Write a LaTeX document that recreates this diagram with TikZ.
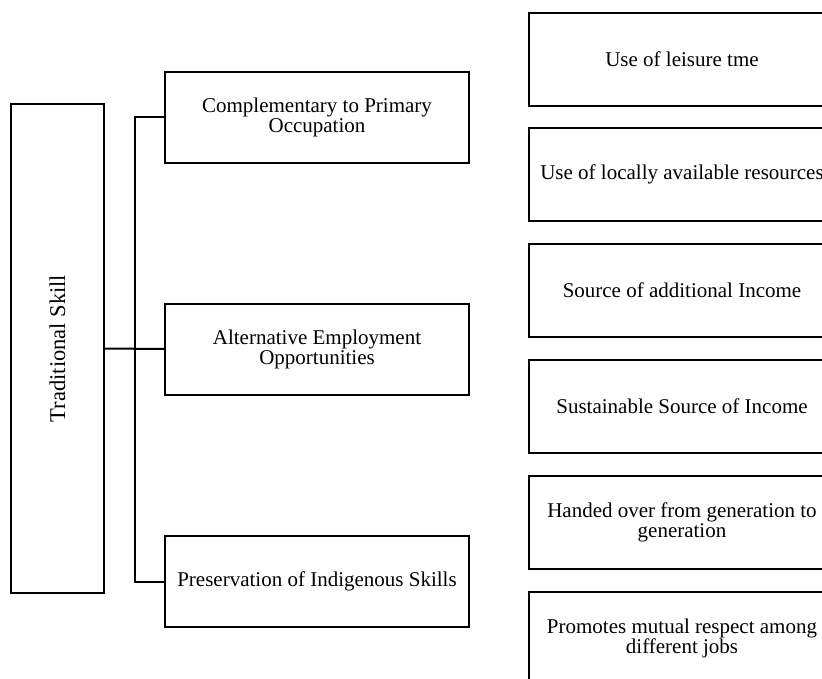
\documentclass[tikz,border=0pt]{standalone}
\usepackage{fontspec}
\setmainfont{Liberation Serif}
\usepackage{tikz}
\usetikzlibrary{positioning}
\tikzset{
  box/.style={draw,line width=2pt,align=center,inner sep=0pt,
    font=\fontsize{21}{20}\selectfont},
  midbox/.style={box,minimum width=304pt,minimum height=91pt},
  sidebox/.style={box,minimum width=306pt,minimum height=93pt},
  link/.style={line width=2pt}
}

\begin{document}
\begin{tikzpicture}[x=1pt,y=-1pt]
  \useasboundingbox (0,0) rectangle (822,678);
  \clip (0,0) rectangle (822,678);
  % main box
  \node[box,minimum width=489pt,minimum height=93pt,rotate=90,
    font=\fontsize{22.5}{22}\selectfont]
    (skill) at (57.5,348.5) {Traditional Skill};
  % middle column
  \node[midbox] (comp) at (317,117) {Complementary to Primary\\Occupation};
  \node[midbox] (alt)  at (317,349) {Alternative Employment\\Opportunities};
  \node[midbox] (pres) at (317,581.5) {Preservation of Indigenous Skills};
  % right column (runs off the page)
  \node[sidebox] (r1) at (682,59.5)  {Use of leisure tme};
  \node[sidebox] (r2) at (682,174.5) {Use of locally available resources};
  \node[sidebox] (r3) at (682,290.5) {Source of additional Income};
  \node[sidebox] (r4) at (682,406)   {Sustainable Source of Income};
  \node[sidebox] (r5) at (682,522.5) {Handed over from generation to\\generation};
  \node[sidebox] (r6) at (682,638.5) {Promotes mutual respect among\\different jobs};
  % connectors
  \coordinate (trunk) at (135,349);
  \draw[link] (skill.south) -- (alt.west);
  \draw[link] (comp.west) -| (trunk) |- (pres.west);
\end{tikzpicture}
\end{document}
